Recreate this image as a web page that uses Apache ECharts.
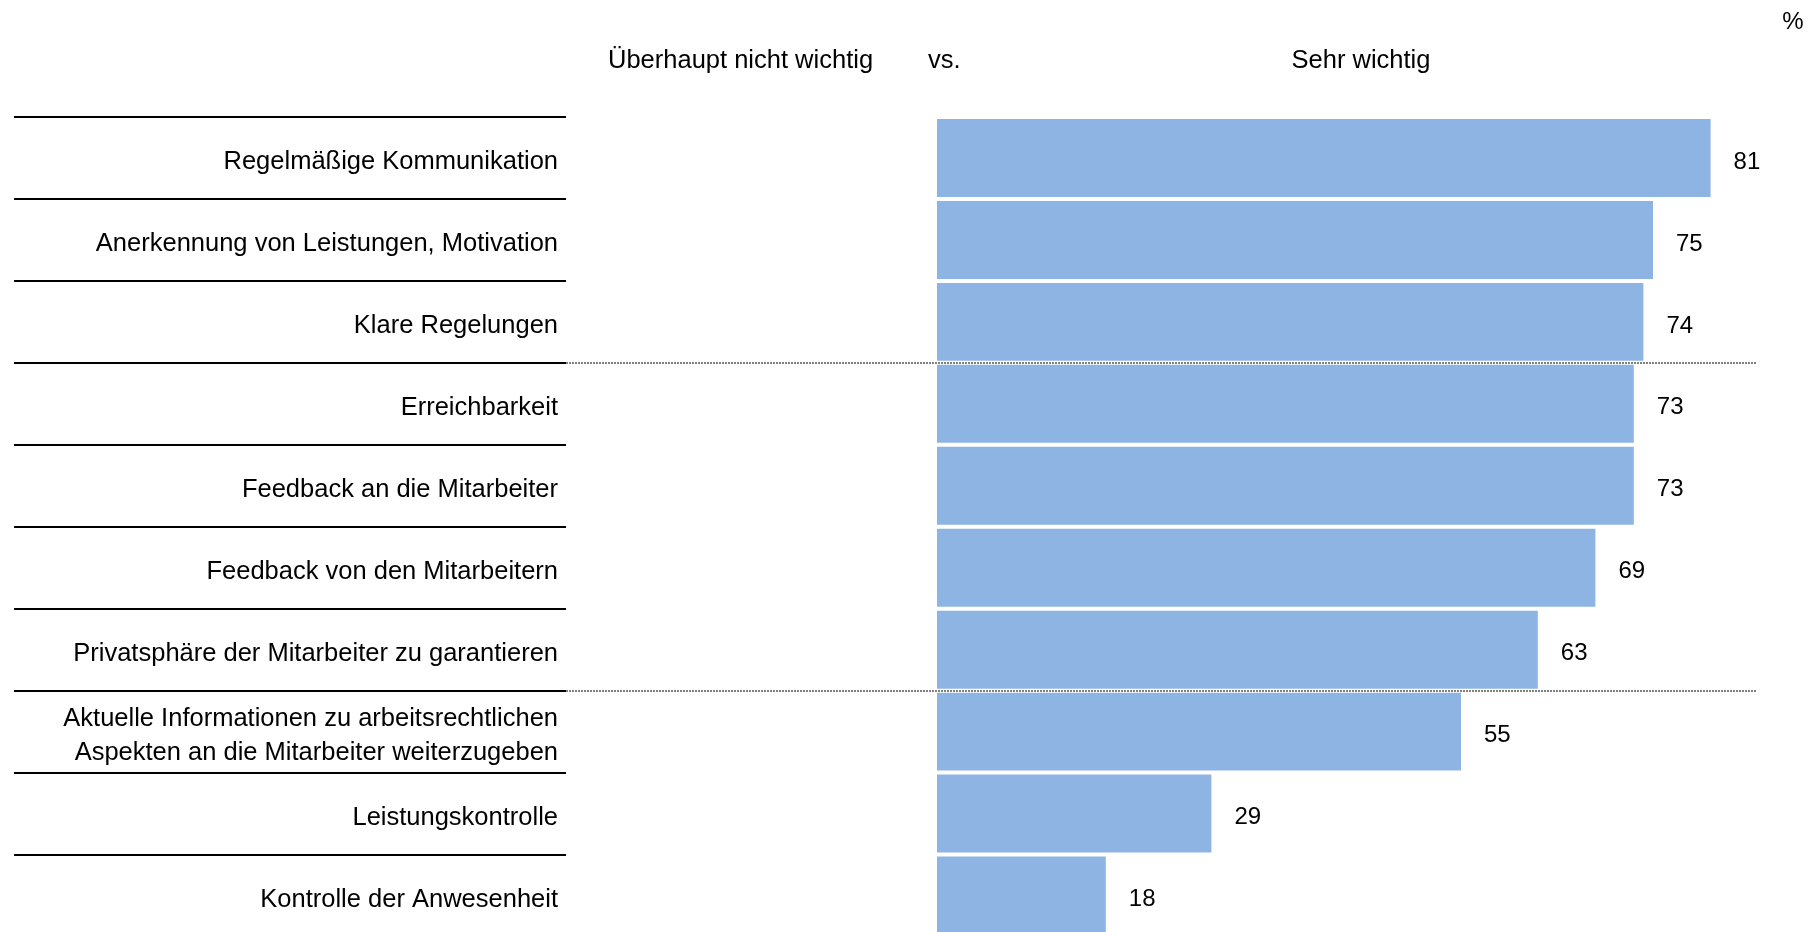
<!DOCTYPE html>
<html><head><meta charset="utf-8">
<script src="https://cdn.jsdelivr.net/npm/echarts@6/dist/echarts.min.js"></script>
<style>html,body{margin:0;padding:0;background:#fff;overflow:hidden}#c{width:1818px;height:932px}</style>
</head><body><div id="c"></div>
<script>
const categories = [
  'Regelmäßige Kommunikation',
  'Anerkennung von Leistungen, Motivation',
  'Klare Regelungen',
  'Erreichbarkeit',
  'Feedback an die Mitarbeiter',
  'Feedback von den Mitarbeitern',
  'Privatsphäre der Mitarbeiter zu garantieren',
  'Aktuelle Informationen zu arbeitsrechtlichen\nAspekten an die Mitarbeiter weiterzugeben',
  'Leistungskontrolle',
  'Kontrolle der Anwesenheit'
];
const values = [81, 75, 74, 73, 73, 69, 63, 55, 29, 18];
const groupBreaks = [3, 7];
const headerLeft = 'Überhaupt nicht wichtig';
const headerMid = 'vs.';
const headerRight = 'Sehr wichtig';
const unitLabel = '%';

const FONT = '"Liberation Sans", Arial, sans-serif';
const FS = 25.5;
const FSV = 24;
const TOP = 117, HEIGHT = 819.5;

const chart = echarts.init(document.getElementById('c'), null, {renderer: 'canvas'});
const gridBase = {top: TOP, height: HEIGHT, outerBoundsMode: 'none', containLabel: false};
chart.setOption({
  animation: false,
  backgroundColor: '#fff',
  textStyle: {fontFamily: FONT},
  grid: [
    Object.assign({}, gridBase, {left: 935, right: 19}),
    Object.assign({}, gridBase, {left: 14, width: 552}),
    Object.assign({}, gridBase, {left: 566, width: 1191}),
    Object.assign({}, gridBase, {left: 935, right: 19, top: TOP + 4})
  ],
  xAxis: [
    {gridIndex: 0, type: 'value', min: 0, max: 90, show: false},
    {gridIndex: 1, type: 'value', min: 0, max: 1, show: false},
    {gridIndex: 2, type: 'value', min: 0, max: 1, show: false},
    {gridIndex: 3, type: 'value', min: 0, max: 1, show: false}
  ],
  yAxis: [
    {gridIndex: 0, type: 'category', data: categories, inverse: true,
     axisLine: {show: false}, axisTick: {show: false}, splitLine: {show: false}, axisLabel: {show: false}},
    {gridIndex: 1, type: 'value', min: 0, max: categories.length, interval: 1, inverse: true,
     axisLine: {show: false}, axisTick: {show: false}, axisLabel: {show: false},
     splitLine: {show: true, lineStyle: {color: '#000', width: 2, type: 'solid'}}},
    {gridIndex: 2, type: 'value', min: 0, max: categories.length, inverse: true, show: false},
    {gridIndex: 3, type: 'category', data: categories, inverse: true,
     axisLine: {show: false}, axisTick: {show: false}, splitLine: {show: false},
     axisLabel: {margin: 377, fontSize: FS, color: '#000', fontFamily: FONT, lineHeight: 34, align: 'right', interval: 0}}
  ],
  series: [
    {type: 'scatter', xAxisIndex: 2, yAxisIndex: 2, data: [], z: 1, silent: true,
     markLine: {silent: true, symbol: ['none', 'none'], label: {show: false},
       lineStyle: {color: '#808080', width: 2, type: [2, 1]},
       data: groupBreaks.map(b => ({yAxis: b}))}},
    {type: 'bar', xAxisIndex: 0, yAxisIndex: 0, data: values, z: 3,
     barCategoryGap: '0%',
     itemStyle: {color: '#8EB4E3', borderColor: '#fff', borderWidth: 2},
     label: {show: true, position: 'right', distance: 21, fontSize: FSV, color: '#000', fontFamily: FONT, offset: [0, 4]}}
  ],
  graphic: [
    {type: 'text', x: 608, y: 61, style: {text: headerLeft, font: FS + 'px ' + FONT, fill: '#000', textAlign: 'left', textVerticalAlign: 'middle'}},
    {type: 'text', x: 928, y: 61, style: {text: headerMid, font: FS + 'px ' + FONT, fill: '#000', textAlign: 'left', textVerticalAlign: 'middle'}},
    {type: 'text', x: 1361, y: 61, style: {text: headerRight, font: FS + 'px ' + FONT, fill: '#000', textAlign: 'center', textVerticalAlign: 'middle'}},
    {type: 'text', x: 1793, y: 22, style: {text: unitLabel, font: FSV + 'px ' + FONT, fill: '#000', textAlign: 'center', textVerticalAlign: 'middle'}}
  ]
});
</script>
</body></html>
